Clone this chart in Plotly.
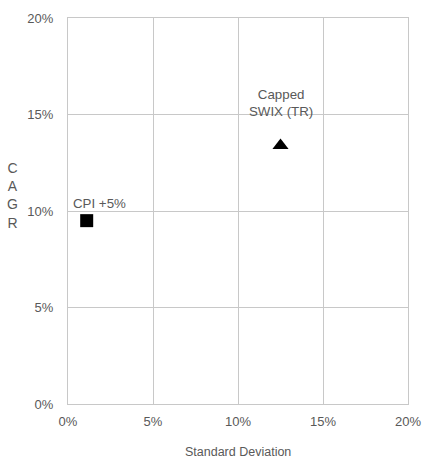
import plotly.graph_objects as go

names = ["CPI +5%", "Capped<br>SWIX (TR)"]
std_dev = [0.011, 0.125]
cagr = [0.095, 0.134]
symbols = ["square", "triangle-up"]
sizes = [13, 14]
label_shift_x = [13, 0]
label_shift_y = [17, 42]

x_ticks = [0, 0.05, 0.10, 0.15, 0.20]
y_ticks = [0, 0.05, 0.10, 0.15, 0.20]

grid = "#c8c8c8"
txt = "#595959"
font = "Liberation Sans, Arial, sans-serif"

fig = go.Figure()
for n, x, y, s, sz in zip(names, std_dev, cagr, symbols, sizes):
    fig.add_trace(go.Scatter(x=[x], y=[y], mode="markers", name=n,
                             marker=dict(symbol=s, size=sz, color="black"),
                             showlegend=False, hoverinfo="skip", cliponaxis=False))

annotations = []
for n, x, y, dx, dy in zip(names, std_dev, cagr, label_shift_x, label_shift_y):
    annotations.append(dict(x=x, y=y, xref="x", yref="y", text=n, showarrow=False,
                            xshift=dx, yshift=dy, font=dict(size=13.3, color=txt, family=font),
                            align="center"))
annotations.append(dict(x=-0.163, y=0.54, xref="paper", yref="paper",
                        xanchor="center", yanchor="middle",
                        text="C<br>A<br>G<br>R", showarrow=False,
                        font=dict(size=14, color=txt, family=font), align="center"))
annotations.append(dict(x=0.5, y=-0.125, xref="paper", yref="paper",
                        xanchor="center", yanchor="middle",
                        text="Standard Deviation", showarrow=False,
                        font=dict(size=12.5, color=txt, family=font)))

fig.update_layout(
    width=422, height=459,
    margin=dict(l=68, r=14, t=18, b=55, autoexpand=False),
    paper_bgcolor="white", plot_bgcolor="white",
    font=dict(family=font, size=13, color=txt),
    annotations=annotations,
    xaxis=dict(range=[0, 0.20], tickvals=x_ticks, tickformat=".0%", automargin=False,
               showgrid=True, gridcolor=grid, gridwidth=1,
               showline=True, linecolor=grid, linewidth=1, mirror=True,
               zeroline=False, ticks="outside", ticklen=5, tickcolor="rgba(0,0,0,0)",
               tickfont=dict(size=13, color=txt)),
    yaxis=dict(range=[0, 0.20], tickvals=y_ticks, tickformat=".0%", automargin=False,
               showgrid=True, gridcolor=grid, gridwidth=1,
               showline=True, linecolor=grid, linewidth=1, mirror=True,
               zeroline=False, ticks="outside", ticklen=11, tickcolor="rgba(0,0,0,0)",
               tickfont=dict(size=13, color=txt)),
)

fig.write_html("out.html", config={"displayModeBar": False},
               post_script="document.body.style.margin='0';document.body.style.overflow='hidden';")
